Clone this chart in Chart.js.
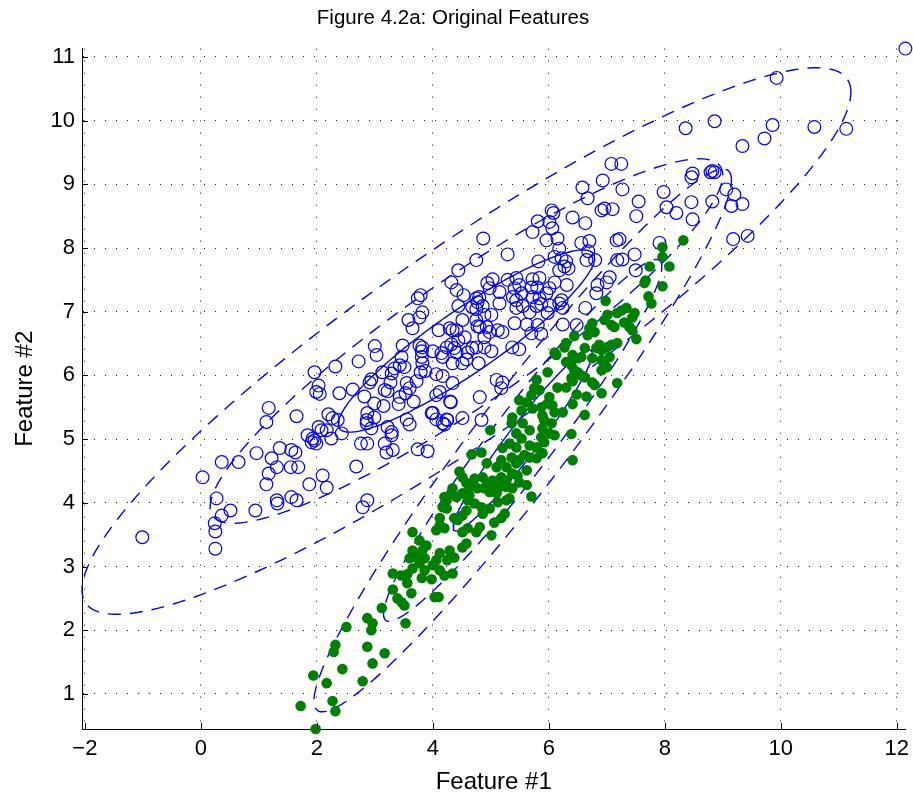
<!DOCTYPE html>
<html lang="en">
<head>
<meta charset="utf-8" />
<title>Figure 4.2a: Original Features</title>
<style>
  html, body { margin: 0; padding: 0; background: #fff; }
  #chart { display: block; }
</style>
</head>
<body>
<canvas id="chart" width="913" height="800"></canvas>
<script src="https://cdn.jsdelivr.net/npm/chart.js@4.4.0/dist/chart.umd.min.js"></script>
<script>
// class 1 samples (open blue circles)
const blueX = [
  1.96,2.03,1.99,2.05,1.17,1.65,1.13,2.20,2.27,2.36,
  2.03,2.08,2.17,1.84,1.93,1.96,1.99,1.91,2.25,2.32,
  1.36,0.96,1.22,1.56,1.63,0.36,0.65,1.31,1.55,1.68,
  0.03,1.17,1.13,2.10,1.87,2.17,0.27,1.31,1.32,1.56,
  1.65,0.51,0.94,0.36,0.24,0.25,-1.01,0.25,2.39,4.75,
  4.44,4.32,4.41,4.53,4.75,3.74,3.79,4.44,4.68,4.75,
  3.82,3.77,3.58,3.65,4.51,4.75,4.77,4.10,4.29,4.34,
  4.41,4.55,4.44,3.00,3.03,3.48,3.77,3.82,3.81,4.00,
  4.24,4.32,4.37,4.41,4.15,4.17,4.68,4.60,2.72,3.46,
  3.43,3.34,3.51,3.81,3.82,3.87,3.79,4.34,4.51,4.58,
  3.29,2.94,2.91,3.13,4.06,4.17,3.72,3.55,3.60,3.27,
  4.34,2.62,3.17,3.22,3.53,3.67,3.43,3.41,4.12,4.06,
  2.82,2.99,3.15,4.30,2.87,2.86,2.86,2.94,2.99,3.98,
  4.06,4.24,4.20,3.55,3.60,3.22,3.29,3.29,2.43,2.76,
  2.87,3.17,3.20,3.31,3.74,3.91,2.68,6.58,6.67,6.93,
  6.91,6.96,7.10,6.05,6.08,5.81,6.01,6.41,6.63,6.06,
  5.72,6.15,5.96,4.87,6.56,6.70,6.18,6.68,5.29,6.10,
  6.22,6.30,6.27,6.18,6.34,6.65,6.80,5.82,7.17,7.18,
  7.05,7.00,6.84,6.82,5.03,5.44,5.49,5.41,5.53,5.38,
  5.44,5.72,5.84,5.70,5.80,5.72,5.84,5.87,5.79,5.29,
  5.15,4.98,4.94,6.10,6.01,5.96,6.31,6.22,6.18,6.24,
  6.01,5.98,5.55,5.44,5.67,5.15,4.80,4.77,4.86,4.89,
  5.01,4.81,4.93,4.98,4.89,5.12,5.20,5.41,5.62,5.81,
  5.70,5.87,6.24,6.48,6.63,4.75,4.89,5.01,5.37,5.49,
  4.79,5.10,5.20,5.18,4.81,4.00,4.25,4.17,4.51,4.84,
  4.31,2.87,2.79,9.34,7.08,7.25,7.27,7.55,7.98,8.46,
  8.48,8.79,8.82,8.86,9.06,9.20,9.34,9.15,8.46,8.82,
  8.03,8.20,7.51,8.48,7.22,7.91,9.18,9.43,7.27,7.48,
  7.50,9.93,8.86,9.86,9.72,10.58,11.13,12.15,8.36
];
const blueY = [
  6.05,5.84,5.74,5.71,5.49,5.36,5.27,5.39,5.33,5.30,
  5.19,5.14,5.14,5.06,5.01,4.98,4.93,4.95,5.01,6.14,
  4.86,4.78,4.70,4.83,4.79,4.64,4.64,4.56,4.56,4.56,
  4.40,4.46,4.29,4.43,4.29,4.24,4.07,4.04,3.99,4.09,
  4.04,3.88,3.88,3.80,3.68,3.55,3.46,3.28,5.72,7.81,
  7.65,7.46,7.34,7.26,7.21,7.21,7.26,7.09,7.07,7.04,
  6.99,6.91,6.87,6.74,6.87,6.87,6.77,6.71,6.74,6.71,
  6.71,6.60,6.55,6.46,6.32,6.47,6.47,6.44,6.38,6.38,
  6.44,6.49,6.43,6.36,6.35,6.29,6.43,6.36,6.22,6.29,
  6.16,6.11,6.13,6.29,6.19,6.07,6.05,6.19,6.19,6.25,
  6.03,5.94,5.89,6.05,6.02,5.99,5.91,5.88,5.80,5.89,
  5.88,5.78,5.77,5.75,5.72,5.59,5.66,5.55,5.74,5.69,
  5.67,5.56,5.52,5.59,5.41,5.30,5.25,5.17,5.34,5.41,
  5.31,5.31,5.23,5.31,5.23,5.19,5.11,5.06,5.09,4.93,
  4.93,4.93,4.79,4.83,4.84,4.81,4.57,8.95,8.78,9.06,
  8.59,8.62,8.61,8.59,8.55,8.42,8.41,8.48,8.39,8.31,
  8.25,8.15,8.12,8.15,8.08,8.11,7.99,7.95,7.90,7.86,
  7.84,7.79,7.71,7.65,7.68,7.81,7.81,7.79,8.12,7.81,
  7.54,7.46,7.42,7.29,7.51,7.53,7.42,7.37,7.29,7.23,
  7.18,7.51,7.53,7.38,7.38,7.23,7.21,7.12,7.09,7.50,
  7.31,7.37,7.45,7.46,7.37,7.29,7.42,7.18,7.13,7.06,
  7.10,6.98,7.09,7.06,6.99,7.13,7.23,7.15,7.09,6.95,
  6.95,6.76,6.76,6.68,6.60,6.71,6.68,6.82,6.80,6.79,
  6.66,6.65,6.80,6.79,7.06,6.44,6.44,6.38,6.44,6.41,
  6.19,5.93,5.89,5.80,5.66,5.41,5.30,5.25,5.33,5.30,
  5.58,4.04,3.93,9.60,9.32,9.32,8.92,8.73,8.88,9.11,
  9.17,9.19,9.21,9.19,8.92,8.84,8.69,8.66,8.72,8.73,
  8.64,8.55,8.50,8.45,8.14,8.08,8.14,8.19,7.82,7.90,
  7.65,10.67,9.99,9.93,9.72,9.90,9.87,11.13,9.88
];

// class 2 samples (filled green dots)
const greenX = [
  5.79,5.75,5.84,5.70,5.49,5.62,5.53,5.37,5.72,5.87,
  5.89,7.25,7.34,7.18,7.48,7.44,7.01,6.96,7.08,7.13,
  7.30,7.39,7.44,6.75,6.70,6.79,6.67,7.51,6.44,6.30,
  6.27,7.18,7.08,7.00,6.87,6.82,6.62,6.91,6.10,6.13,
  6.41,6.50,6.56,6.75,6.91,7.05,6.30,6.39,6.44,6.50,
  6.96,7.00,6.91,5.98,6.56,6.62,6.39,6.41,6.75,6.79,
  7.18,6.15,6.30,6.91,6.65,6.48,6.01,5.98,6.06,6.10,
  6.41,6.24,6.62,5.92,6.05,5.89,6.01,6.10,6.39,5.87,
  5.92,5.89,6.41,6.98,8.32,7.96,7.96,8.08,7.74,7.67,
  7.65,7.96,7.72,7.77,5.36,5.55,4.99,5.67,5.44,5.53,
  5.32,5.44,5.67,5.79,5.20,4.67,4.84,5.58,5.67,5.79,
  5.36,5.49,5.44,5.18,4.93,5.10,5.27,5.62,4.46,4.51,
  5.37,5.46,5.49,4.72,4.86,4.93,5.03,5.18,5.27,4.58,
  4.63,4.77,4.89,5.06,5.15,5.27,5.37,5.62,4.34,4.32,
  4.51,4.63,4.98,5.10,5.32,5.12,5.27,5.70,4.41,4.20,
  4.24,4.60,4.72,4.84,4.98,4.86,4.17,4.24,5.24,5.18,
  4.58,4.51,4.37,4.43,5.06,4.12,4.81,4.75,4.60,4.51,
  4.20,4.06,4.12,5.01,4.58,4.51,4.29,4.12,4.37,4.25,
  4.06,4.00,3.65,3.77,3.89,3.65,3.82,3.60,3.72,3.86,
  3.77,3.65,3.86,4.12,3.31,3.46,3.56,4.20,4.34,3.81,
  3.98,3.56,3.31,3.63,4.03,4.10,3.39,3.46,3.51,3.12,
  2.87,2.96,2.94,3.53,2.51,2.32,2.29,2.87,3.17,2.96,
  2.44,1.94,2.17,2.79,2.27,2.32,1.72,1.98
];
const greenY = [
  5.93,5.80,5.77,5.69,5.61,5.58,5.45,5.34,5.48,5.50,
  5.37,7.02,7.06,6.98,6.98,6.91,6.95,6.87,6.79,6.76,
  6.83,6.76,6.71,6.82,6.74,6.68,6.63,6.57,6.62,6.51,
  6.44,6.51,6.48,6.44,6.48,6.43,6.43,6.40,6.36,6.32,
  6.32,6.27,6.29,6.27,6.24,6.29,6.21,6.16,6.08,6.05,
  6.16,6.13,6.08,6.05,6.00,5.97,5.96,5.91,5.89,5.85,
  5.88,5.81,5.81,5.72,5.67,5.70,5.66,5.56,5.53,5.42,
  5.55,5.42,5.38,5.30,5.25,5.17,5.09,5.06,5.08,5.03,
  4.95,4.78,4.67,7.17,8.12,8.01,7.86,7.71,7.71,7.49,
  7.45,7.40,7.24,7.13,5.25,5.25,5.14,5.14,5.09,5.01,
  4.93,4.87,4.90,4.87,4.86,4.76,4.79,4.75,4.71,4.70,
  4.71,4.67,4.62,4.67,4.62,4.56,4.56,4.51,4.49,4.40,
  4.46,4.43,4.32,4.38,4.40,4.32,4.35,4.40,4.35,4.31,
  4.25,4.23,4.23,4.28,4.25,4.25,4.23,4.28,4.23,4.16,
  4.15,4.12,4.17,4.15,4.07,4.01,4.04,4.10,4.09,4.09,
  4.04,4.04,3.99,3.93,3.91,3.83,3.93,3.91,3.83,3.76,
  3.88,3.80,3.76,3.73,3.69,3.76,3.62,3.54,3.60,3.54,
  3.60,3.57,3.65,3.49,3.36,3.30,3.25,3.21,3.14,3.10,
  3.10,3.02,3.54,3.41,3.33,3.25,3.25,3.13,3.14,3.13,
  3.05,2.97,2.94,2.94,2.89,2.86,2.88,2.86,2.89,2.82,
  2.80,2.74,2.64,2.58,2.52,2.52,2.50,2.44,2.39,2.35,
  2.19,2.11,2.00,2.11,2.05,1.77,1.66,1.74,1.64,1.48,
  1.39,1.29,1.17,1.20,0.89,0.73,0.81,0.45
];

// gaussian fit of each class: mean, std devs, correlation
const blueMean = [4.58, 6.54];
const blueSigma = [2.21, 1.43];
const blueRho = 0.91;
const greenMean = [5.55, 4.98];
const greenSigma = [1.2, 1.42];
const greenRho = 0.96;
const sigmaLevels = [1, 2, 3];

const xTickValues = [-2, 0, 2, 4, 6, 8, 10, 12];
const yTickValues = [1, 2, 3, 4, 5, 6, 7, 8, 9, 10, 11];

const BLUE = '#0000ff';
const GREEN = '#008000';
const FONT = 'Arial, "Liberation Sans", Helvetica, sans-serif';

// k-sigma contour of a 2d normal
function contour(mean, sigma, rho, k) {
  const pts = [];
  const s = Math.sqrt(1 - rho * rho);
  for (let i = 0; i <= 240; i++) {
    const t = (i / 240) * 2 * Math.PI;
    pts.push({
      x: mean[0] + k * sigma[0] * Math.cos(t),
      y: mean[1] + k * sigma[1] * (rho * Math.cos(t) + s * Math.sin(t))
    });
  }
  return pts;
}

function zip(xs, ys) {
  return xs.map((x, i) => ({ x: x, y: ys[i] }));
}

// contours go underneath the samples
const contourSets = [];
[[blueMean, blueSigma, blueRho], [greenMean, greenSigma, greenRho]].forEach(([m, s, r]) => {
  sigmaLevels.forEach(k => {
    contourSets.push({
      data: contour(m, s, r, k),
      showLine: true,
      borderColor: BLUE,
      borderWidth: 1.4,
      borderDash: k === 1 ? [] : [13, 9],
      pointRadius: 0,
      fill: false,
      tension: 0,
      clip: false,
      order: 5
    });
  });
});

// matlab style tick marks pointing into the plot
const inwardTicks = {
  id: 'inwardTicks',
  afterDraw(chart) {
    const { ctx, chartArea: a, scales: { x, y } } = chart;
    ctx.save();
    ctx.strokeStyle = '#000';
    ctx.lineWidth = 1;
    ctx.beginPath();
    x.ticks.forEach(t => {
      const px = Math.round(x.getPixelForValue(t.value)) + 0.5;
      ctx.moveTo(px, a.bottom);
      ctx.lineTo(px, a.bottom - 6);
    });
    y.ticks.forEach(t => {
      const py = Math.round(y.getPixelForValue(t.value)) + 0.5;
      ctx.moveTo(a.left, py);
      ctx.lineTo(a.left + 6, py);
    });
    ctx.stroke();
    ctx.restore();
  }
};

const gridOpts = { color: 'rgba(0,0,0,0.9)', lineWidth: 1, drawTicks: false };

new Chart(document.getElementById('chart'), {
  type: 'scatter',
  data: {
    datasets: [
      ...contourSets,
      {
        data: zip(blueX, blueY),
        pointStyle: 'circle',
        pointRadius: 6.4,
        pointBorderWidth: 1.2,
        pointBorderColor: BLUE,
        pointBackgroundColor: 'rgba(0,0,0,0)',
        clip: false,
        order: 2
      },
      {
        data: zip(greenX, greenY),
        pointStyle: 'circle',
        pointRadius: 5.3,
        pointBorderWidth: 0,
        pointBorderColor: GREEN,
        pointBackgroundColor: GREEN,
        clip: false,
        order: 1
      }
    ]
  },
  options: {
    responsive: false,
    animation: false,
    layout: { padding: { left: 0, right: 7, top: 0, bottom: 0 } },
    plugins: {
      legend: { display: false },
      tooltip: { enabled: false },
      title: {
        display: true,
        text: 'Figure 4.2a: Original Features',
        color: '#000',
        font: { family: FONT, size: 20.5, weight: 'normal' },
        padding: { top: 6, bottom: 18 }
      }
    },
    scales: {
      x: {
        type: 'linear',
        position: 'bottom',
        min: -2.05,
        max: 12.15,
        afterBuildTicks: s => { s.ticks = xTickValues.map(v => ({ value: v })); },
        afterFit: s => { s.height = 71; s.paddingLeft = 0; s.paddingRight = 0; },
        ticks: {
          color: '#000',
          font: { family: FONT, size: 22 },
          padding: 7,
          maxRotation: 0,
          autoSkip: false,
          callback: v => String(v).replace('-', '\u2212')
        },
        grid: gridOpts,
        border: { display: true, color: '#000', width: 1, dash: [1, 11] },
        title: {
          display: true,
          text: 'Feature #1',
          color: '#000',
          font: { family: FONT, size: 24 },
          padding: { top: 0, bottom: 3 }
        }
      },
      y: {
        type: 'linear',
        position: 'left',
        min: 0.45,
        max: 11.13,
        afterBuildTicks: s => { s.ticks = yTickValues.map(v => ({ value: v })); },
        afterFit: s => { s.width = 82; s.paddingTop = 0; s.paddingBottom = 0; },
        ticks: {
          color: '#000',
          font: { family: FONT, size: 22 },
          padding: 7,
          autoSkip: false
        },
        grid: gridOpts,
        border: { display: true, color: '#000', width: 1, dash: [1, 10] },
        title: {
          display: true,
          text: 'Feature #2',
          color: '#000',
          font: { family: FONT, size: 24 },
          padding: { top: 11, bottom: 0 }
        }
      }
    }
  },
  plugins: [inwardTicks]
});
</script>
</body>
</html>
